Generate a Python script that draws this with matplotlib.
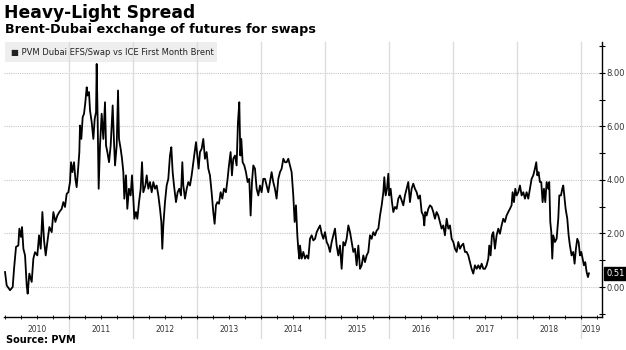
import numpy as np
import matplotlib
matplotlib.use('Agg')
import matplotlib.pyplot as plt
import matplotlib.patches as plp
import matplotlib.transforms as mtr

title = 'Heavy-Light Spread'
subtitle = 'Brent-Dubai exchange of futures for swaps'
source = 'Source: PVM'
series_name = 'PVM Dubai EFS/Swap vs ICE First Month Brent'
year_labels = [2010, 2011, 2012, 2013, 2014, 2015, 2016, 2017, 2018, 2019]
y_ticks = [0, 2, 4, 6, 8]

# decimal years
dates = [
	2010.000, 2010.026, 2010.078, 2010.120, 2010.141, 2010.172, 2010.208, 2010.224, 2010.250, 2010.266,
	2010.287, 2010.313, 2010.339, 2010.354, 2010.380, 2010.417, 2010.443, 2010.469, 2010.505, 2010.532,
	2010.558, 2010.584, 2010.610, 2010.636, 2010.662, 2010.693, 2010.730, 2010.756, 2010.787, 2010.818,
	2010.849, 2010.886, 2010.912, 2010.938, 2010.964, 2010.990, 2011.016, 2011.032, 2011.053, 2011.079,
	2011.100, 2011.120, 2011.141, 2011.162, 2011.172, 2011.193, 2011.214, 2011.235, 2011.256, 2011.277,
	2011.292, 2011.313, 2011.329, 2011.355, 2011.381, 2011.402, 2011.423, 2011.433, 2011.449, 2011.464,
	2011.485, 2011.511, 2011.537, 2011.563, 2011.579, 2011.600, 2011.626, 2011.652, 2011.683, 2011.704,
	2011.720, 2011.746, 2011.767, 2011.782, 2011.808, 2011.829, 2011.850, 2011.865, 2011.891, 2011.912,
	2011.938, 2011.964, 2011.985, 2012.006, 2012.022, 2012.048, 2012.069, 2012.095, 2012.121, 2012.142,
	2012.162, 2012.194, 2012.215, 2012.241, 2012.267, 2012.293, 2012.319, 2012.345, 2012.371, 2012.397,
	2012.423, 2012.444, 2012.459, 2012.475, 2012.501, 2012.527, 2012.553, 2012.579, 2012.600, 2012.621,
	2012.642, 2012.673, 2012.699, 2012.725, 2012.751, 2012.772, 2012.788, 2012.814, 2012.840, 2012.866,
	2012.892, 2012.918, 2012.944, 2012.965, 2012.986, 2013.006, 2013.027,
	2013.048, 2013.074, 2013.100, 2013.126, 2013.152, 2013.178, 2013.204, 2013.230, 2013.256, 2013.277,
	2013.298, 2013.319, 2013.345, 2013.371, 2013.397, 2013.423, 2013.454, 2013.480, 2013.501, 2013.527,
	2013.548, 2013.569, 2013.595, 2013.621, 2013.642, 2013.663, 2013.679, 2013.694, 2013.715, 2013.741,
	2013.767, 2013.793, 2013.819, 2013.840, 2013.861, 2013.882, 2013.908, 2013.934, 2013.960, 2013.986,
	2014.012, 2014.038, 2014.064, 2014.090, 2014.116, 2014.142, 2014.168, 2014.194, 2014.220, 2014.246,
	2014.273, 2014.299, 2014.325, 2014.351, 2014.377, 2014.403, 2014.429, 2014.455, 2014.481, 2014.507,
	2014.528, 2014.549, 2014.570, 2014.585, 2014.601,
	2014.612, 2014.638, 2014.664, 2014.690, 2014.716, 2014.742, 2014.768, 2014.794, 2014.820, 2014.847,
	2014.873, 2014.899, 2014.925, 2014.951, 2014.977, 2015.003, 2015.029, 2015.055, 2015.081, 2015.107,
	2015.133, 2015.159, 2015.185, 2015.211, 2015.237, 2015.263, 2015.289, 2015.315, 2015.341, 2015.368,
	2015.394, 2015.420, 2015.446, 2015.472, 2015.498, 2015.524, 2015.550, 2015.576, 2015.602, 2015.628,
	2015.654, 2015.680, 2015.706, 2015.732, 2015.758, 2015.785, 2015.811, 2015.837, 2015.863, 2015.889,
	2015.915, 2015.930, 2015.951, 2015.972, 2015.993, 2016.008, 2016.029, 2016.050, 2016.071, 2016.097,
	2016.123, 2016.149,
	2016.175, 2016.201, 2016.227, 2016.253, 2016.279, 2016.305, 2016.331, 2016.357, 2016.383, 2016.409,
	2016.436, 2016.462, 2016.488, 2016.514, 2016.540, 2016.555, 2016.571, 2016.592, 2016.618, 2016.644,
	2016.670, 2016.696, 2016.722, 2016.748, 2016.774, 2016.800, 2016.826, 2016.852, 2016.878, 2016.905,
	2016.931, 2016.957, 2016.983, 2017.009, 2017.035, 2017.061, 2017.087, 2017.113, 2017.139, 2017.165,
	2017.191, 2017.217, 2017.243, 2017.269, 2017.295, 2017.321, 2017.347, 2017.374, 2017.400, 2017.426,
	2017.452, 2017.478, 2017.504, 2017.530, 2017.556, 2017.571, 2017.592, 2017.613, 2017.634, 2017.660,
	2017.686, 2017.712,
	2017.738, 2017.764, 2017.790, 2017.816, 2017.842, 2017.868, 2017.894, 2017.920, 2017.936, 2017.957,
	2017.978, 2017.999, 2018.025, 2018.051, 2018.077, 2018.103, 2018.129, 2018.155, 2018.181, 2018.207,
	2018.233, 2018.259, 2018.285, 2018.306, 2018.322, 2018.342, 2018.363, 2018.384, 2018.405, 2018.426,
	2018.447, 2018.468, 2018.494, 2018.509, 2018.525, 2018.541, 2018.556, 2018.572, 2018.598, 2018.624,
	2018.650, 2018.666, 2018.692, 2018.713, 2018.728, 2018.744, 2018.765, 2018.791, 2018.812, 2018.832,
	2018.858, 2018.884, 2018.905, 2018.926, 2018.947, 2018.968, 2018.989, 2019.010, 2019.030, 2019.051,
	2019.072, 2019.093, 2019.114, 2019.129,
]

spread = [
	0.56, 0.06, -0.12, 0.00, 0.68, 1.50, 1.55, 2.18, 1.87, 2.24,
	1.43, 1.18, 0.06, -0.25, 0.50, 0.19, 1.06, 1.30, 1.18, 1.93,
	1.43, 2.80, 1.74, 1.18, 1.68, 2.24, 2.05, 2.80, 2.43, 2.67,
	2.80, 2.92, 3.17, 2.99, 3.48, 3.54, 3.92, 4.66, 4.29, 4.66,
	4.04, 3.73, 4.35, 5.04, 6.03, 5.53, 6.34, 6.47, 6.90, 7.46,
	7.15, 7.28, 6.59, 6.16, 5.53, 6.28, 6.53, 8.33, 6.16, 3.67,
	5.29, 6.47, 5.53, 6.90, 5.29, 5.04, 4.66, 5.29, 6.78, 5.41,
	4.54, 5.29, 7.34, 5.53, 5.16, 4.79, 4.29, 3.30, 4.17, 2.92,
	3.67, 3.42, 4.17, 3.30, 2.55, 2.80, 2.55, 3.17, 3.67, 4.66,
	3.54, 3.79, 4.17, 3.67, 3.92, 3.54, 3.92, 3.67, 3.79, 3.42,
	2.92, 2.43, 1.43, 2.30, 3.17, 3.79, 4.04, 4.91, 5.22, 4.29,
	3.79, 3.17, 3.54, 3.67, 3.42, 4.66, 3.79, 3.30, 3.67, 3.92,
	3.79, 4.17, 4.66, 5.04, 5.41, 4.91, 4.42,
	5.04, 5.16, 5.53, 4.79, 5.04, 4.42, 4.17, 3.54, 2.80, 2.36,
	3.05, 3.17, 3.11, 3.54, 3.30, 3.67, 3.54, 4.04, 4.54, 5.04,
	4.17, 4.79, 4.91, 4.54, 6.16, 6.90, 4.91, 5.53, 4.66, 4.54,
	4.29, 3.92, 4.04, 2.67, 3.92, 4.54, 4.42, 3.67, 3.42, 3.79,
	3.54, 4.04, 4.04, 3.79, 3.54, 3.92, 4.29, 3.92, 3.67, 3.30,
	4.04, 4.29, 4.42, 4.79, 4.66, 4.66, 4.79, 4.54, 4.29, 3.42,
	2.43, 3.05, 1.93, 1.43, 1.06,
	1.55, 1.06, 1.31, 1.06, 1.18, 1.06, 1.80, 1.93, 1.74, 1.80,
	2.05, 2.18, 2.30, 1.99, 1.80, 2.05, 1.68, 1.55, 1.31, 1.68,
	1.93, 2.18, 1.55, 1.18, 1.55, 0.68, 1.68, 1.55, 1.80, 2.30,
	2.05, 1.68, 1.31, 1.43, 0.81, 1.55, 0.68, 0.81, 1.18, 0.93,
	1.18, 1.31, 1.93, 1.80, 2.05, 1.93, 2.11, 2.18, 2.67, 3.05,
	3.54, 4.10, 3.42, 3.67, 4.23, 3.42, 3.67, 3.17, 2.80, 2.99,
	2.92, 3.30,
	3.42, 3.23, 3.05, 3.42, 3.67, 3.92, 3.17, 3.67, 3.86, 3.67,
	3.54, 3.30, 3.42, 2.80, 2.67, 2.30, 2.80, 2.67, 2.92, 3.05,
	2.99, 2.80, 2.55, 2.80, 2.67, 2.43, 2.18, 2.30, 1.93, 2.55,
	2.18, 2.30, 1.80, 1.68, 1.43, 1.31, 1.68, 1.43, 1.55, 1.62,
	1.31, 1.31, 1.18, 0.93, 0.68, 0.50, 0.81, 0.68, 0.81, 0.68,
	0.87, 0.68, 0.68, 0.81, 1.06, 1.55, 1.18, 1.93, 2.05, 1.43,
	1.93, 2.18,
	1.99, 2.30, 2.55, 2.43, 2.67, 2.80, 2.92, 3.05, 3.54, 3.17,
	3.67, 3.42, 3.54, 3.79, 3.42, 3.54, 3.30, 3.54, 3.30, 3.67,
	4.04, 4.17, 4.42, 4.66, 4.17, 4.29, 3.92, 3.92, 3.17, 3.67,
	3.17, 3.92, 3.67, 3.92, 2.43, 2.05, 1.06, 1.93, 1.68, 1.80,
	2.55, 3.42, 3.42, 3.67, 3.79, 3.42, 2.92, 2.55, 1.93, 1.55,
	1.18, 1.31, 0.87, 1.43, 1.80, 1.68, 1.18, 1.31, 1.06, 0.81,
	0.93, 0.56, 0.37, 0.51,
]

W, H = 626, 350
fig = plt.figure(figsize=(W / 100, H / 100), dpi=100)
ax = fig.add_axes([4 / W, 33 / H, 597.7 / W, 275 / H])
ax.set_xlim(2009.984, 2019.329)
ax.set_ylim(-1.12, 9.15)

# grid
for v in y_ticks:
	ax.axhline(v, color='#c8c8c8', lw=0.8, ls=(0, (1, 1)), zorder=1)
for yr in year_labels[1:]:
	ax.axvline(yr, ymin=-0.075, ymax=1, color='#dcdcdc', lw=1, clip_on=False, zorder=1)

# legend strip
ax.add_patch(plp.Rectangle((0.002, 0.927), 0.354, 0.073, transform=ax.transAxes,
                           facecolor='#eeeeee', edgecolor='none', zorder=0.5))
ax.text(0.012, 0.9635, '\u25a0 ' + series_name, transform=ax.transAxes, ha='left', va='center',
        fontsize=6.0, color='#222222', zorder=4)

ax.plot(dates, spread, color='black', lw=1.3, zorder=3)

# axes styling
for s in ['top', 'left']:
	ax.spines[s].set_visible(False)
for s in ['bottom', 'right']:
	ax.spines[s].set_color('black')
	ax.spines[s].set_linewidth(1)

ax.set_xticks(np.arange(2010, 2019.3, 0.25))
ax.set_xticklabels([])
ax.tick_params(axis='x', direction='inout', length=3, width=0.6, color='black')

ax.yaxis.tick_right()
ax.set_yticks(y_ticks)
ax.set_yticklabels([f'{v:.2f}' for v in y_ticks])
ax.set_yticks([-1, 1, 3, 5, 7, 9], minor=True)
ax.tick_params(axis='y', which='both', direction='inout', length=4, width=0.8, pad=1.5,
               labelsize=6, labelcolor='#333333')

trans = mtr.blended_transform_factory(ax.transData, ax.transAxes)
for yr in year_labels:
	pos = yr + 0.5 if yr < 2019 else (2019 + 2019.329) / 2
	ax.text(pos, -0.047, str(yr), transform=trans, ha='center', va='center', fontsize=5.5, color='#333333')

# last value tag
ax.annotate(f'{spread[-1]:.2f}', xy=(1, spread[-1]), xycoords=(ax.transAxes, ax.transData),
            xytext=(3.5, 0), textcoords='offset points', ha='left', va='center', color='white',
            fontsize=6, bbox=dict(boxstyle='square,pad=0.25', fc='black', ec='black'), annotation_clip=False)

fig.text(4 / W, 1 - 13 / H, title, fontsize=12.3, fontweight='bold', va='center', ha='left')
fig.text(5 / W, 1 - 30 / H, subtitle, fontsize=9.2, fontweight='bold', va='center', ha='left')
fig.text(6 / W, 1 - 340 / H, source, fontsize=7, fontweight='bold', va='center', ha='left')

fig.savefig('out.png', dpi=100)
